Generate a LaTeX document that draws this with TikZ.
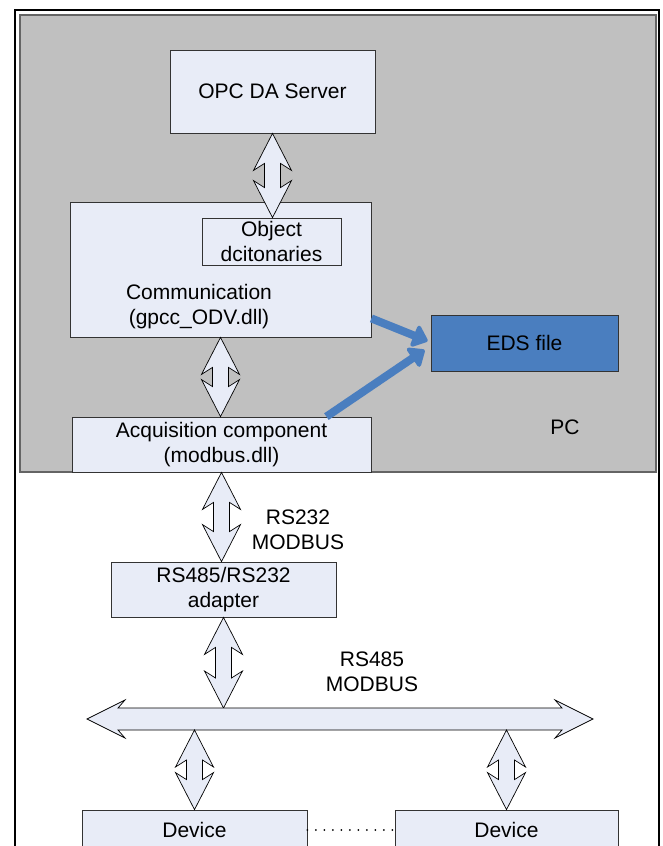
\documentclass[tikz,border=0pt]{standalone}
\usepackage{fontspec}
\setmainfont{Liberation Sans}
\usepackage{tikz}
\usetikzlibrary{arrows.meta, calc}

\definecolor{boxfill}{RGB}{232,236,247}
\definecolor{pcgray}{RGB}{192,192,192}
\definecolor{pcline}{RGB}{100,100,100}
\definecolor{edsblue}{RGB}{74,126,191}

% fat two-headed arrows (vertical and horizontal)
\newcommand{\vdblarrow}[2]{%
  \draw[fatarrow] let \p1=#1, \p2=#2 in
    (\x1,\y1) -- (\x1+19pt,\y1-37pt) -- (\x1+8pt,\y1-30pt) -- (\x1+8pt,\y2+30pt)
    -- (\x1+19pt,\y2+37pt) -- (\x1,\y2) -- (\x1-19pt,\y2+37pt) -- (\x1-8pt,\y2+30pt)
    -- (\x1-8pt,\y1-30pt) -- (\x1-19pt,\y1-37pt) -- cycle;}
\newcommand{\hdblarrow}[2]{%
  \draw[fatarrow] let \p1=#1, \p2=#2 in
    (\x1,\y1) -- (\x1+38pt,\y1+19pt) -- (\x1+31pt,\y1+11pt) -- (\x2-31pt,\y1+11pt)
    -- (\x2-38pt,\y1+19pt) -- (\x2,\y1) -- (\x2-38pt,\y1-19pt) -- (\x2-31pt,\y1-11pt)
    -- (\x1+31pt,\y1-11pt) -- (\x1+38pt,\y1-19pt) -- cycle;}

\begin{document}
\begin{tikzpicture}[x=1pt, y=-1pt, font=\fontsize{21}{25}\selectfont]
            \useasboundingbox (0,0) rectangle (663,846);

            \tikzstyle{box}=[draw=black!80, fill=boxfill, line width=0.8pt, inner sep=0pt, align=center];
            \tikzstyle{fatarrow}=[draw=black, fill=boxfill, line width=0.7pt, line join=miter];
            \tikzstyle{edsarrow}=[draw=edsblue, line width=8pt, -{Triangle[length=16pt, width=26pt, round]}, line join=round];
            \tikzstyle{txt}=[align=center, inner sep=0pt];

            % frame and PC area
            \draw[line width=2.5pt] (15,10) rectangle (659,880);
            \draw[pcline, fill=pcgray, line width=1.2pt] (20,15) rectangle (656,472);

            % boxes
            \node[box, minimum width=205, minimum height=83] (opc) at (272.5,91.5) {OPC DA Server};
            \node[box, minimum width=301, minimum height=135] (comm) at (220.5,269.5) {};
            \node[box, minimum width=139, minimum height=47] (objdict) at (271.5,241.5) {Object\\dcitonaries};
            \node[txt] (commtxt) at (199,307) {Communication\\(gpcc\_ODV.dll)};
            \node[box, fill=edsblue, minimum width=187, minimum height=56] (eds) at (524.5,343) {EDS file};
            \node[box, minimum width=299, minimum height=55] (acq) at (221.5,444.5) {Acquisition component\\(modbus.dll)};
            \node[txt] (pc) at (565,427) {PC};
            \node[box, minimum width=225, minimum height=55] (adapter) at (223.5,589.5) {RS485/RS232\\adapter};
            \node[txt] (rs232) at (298,530) {RS232\\MODBUS};
            \node[txt] (rs485) at (372,672) {RS485\\MODBUS};
            \node[box, minimum width=225, minimum height=40] (dev1) at (194.5,830) {Device};
            \node[box, minimum width=223, minimum height=40] (dev2) at (506.5,830) {Device};

            % bus
            \coordinate (busL) at (87,719);
            \coordinate (busR) at (593,719);
            \coordinate (bustop) at (0,708);
            \coordinate (busbot) at (0,730);

            % links
            \vdblarrow{(opc.south)}{(objdict.north)}
            \vdblarrow{(comm.south)}{(acq.north)}
            \vdblarrow{(acq.south)}{(adapter.north)}
            \vdblarrow{(adapter.south)}{(adapter.south |- bustop)}
            \hdblarrow{(busL)}{(busR)}
            \vdblarrow{(dev1.north |- busbot)}{(dev1.north)}
            \vdblarrow{(dev2.north |- busbot)}{(dev2.north)}

            \draw[edsarrow] ($(comm.south east)+(0,-19)$) -- ($(eds.west)+(-3,-2)$);
            \draw[edsarrow] ($(acq.north east)+(-45,0)$) -- ($(eds.west)+(-6,7)$);

            \draw[line width=2pt, line cap=round, dash pattern=on 0pt off 8.5pt] (dev1.east) -- (dev2.west);
         \end{tikzpicture}
\end{document}
